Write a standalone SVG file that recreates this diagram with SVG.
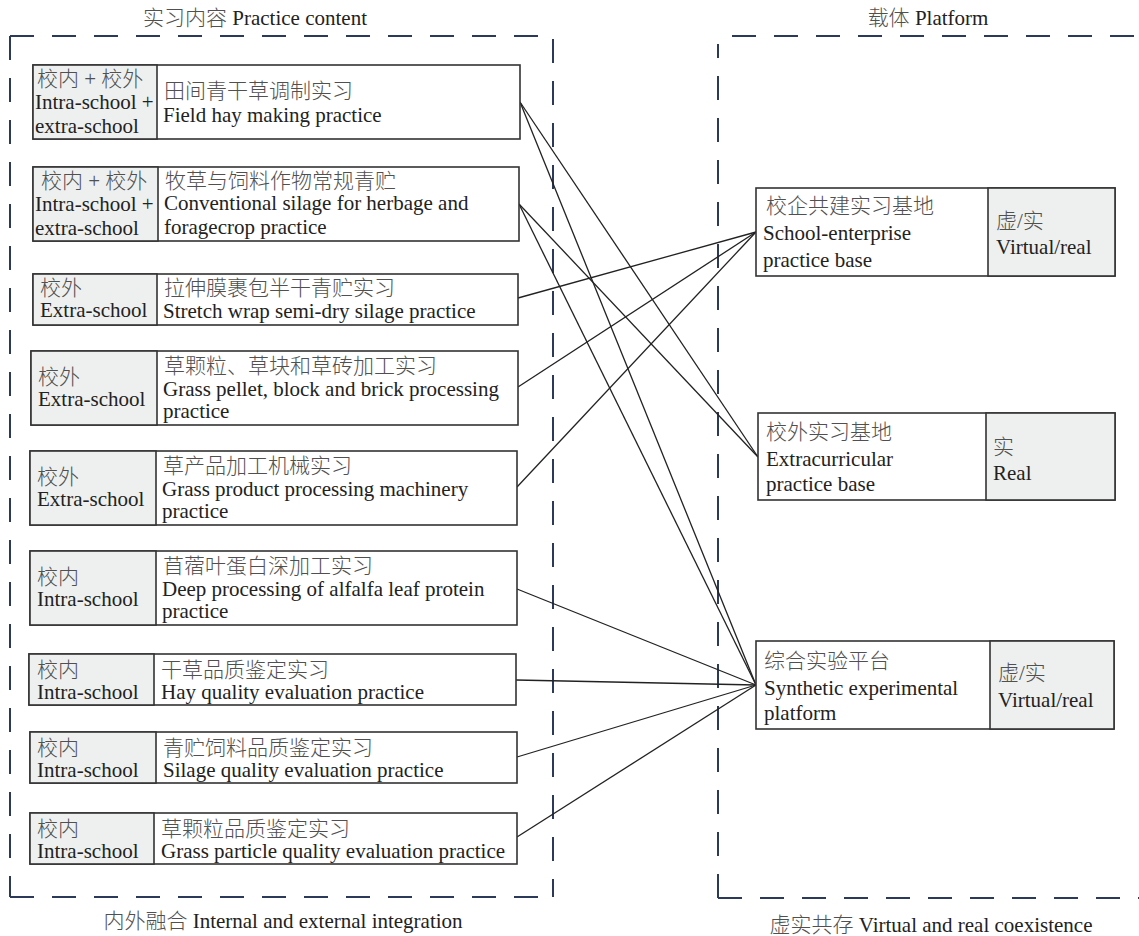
<svg xmlns="http://www.w3.org/2000/svg" width="1139" height="936" viewBox="0 0 1139 936">
<style>
  text { font-family: "Liberation Serif", "Noto Sans CJK SC", serif; font-size: 21px; fill: #222; }
  .cj { fill: #505050; font-weight: 300; }
  .frame { fill: none; stroke: #2c3a5a; stroke-width: 2; stroke-dasharray: 24 18; }
  .box { fill: #fff; stroke: #333; stroke-width: 1.6; }
  .cell { fill: #eef0ef; stroke: #333; stroke-width: 1.6; }
  .conn line { stroke: #222; stroke-width: 1.3; }
</style>
<rect width="1139" height="936" fill="#fff"/>

<g id="frames">
  <path class="frame" d="M10,36 H553 V897"/>
  <path class="frame" d="M10,36 V897"/>
  <path class="frame" d="M10,897 H545"/>
  <path class="frame" d="M732,36 H1139"/>
  <path class="frame" d="M718,898 V44"/>
  <path class="frame" d="M718,898 H1139"/>
</g>

<g id="titles">
  <text x="255" y="25" text-anchor="middle"><tspan class="cj">实习内容</tspan> Practice content</text>
  <text x="928" y="25" text-anchor="middle"><tspan class="cj">载体</tspan> Platform</text>
  <text x="283" y="928" text-anchor="middle"><tspan class="cj">内外融合</tspan> Internal and external integration</text>
  <text x="931" y="932" text-anchor="middle"><tspan class="cj">虚实共存</tspan> Virtual and real coexistence</text>
</g>

<g id="connectors" class="conn">
  <line x1="520" y1="102" x2="758" y2="457"/>
  <line x1="520" y1="102" x2="756" y2="685"/>
  <line x1="519" y1="204" x2="758" y2="457"/>
  <line x1="519" y1="204" x2="756" y2="685"/>
  <line x1="518" y1="298" x2="756" y2="232"/>
  <line x1="518" y1="387" x2="756" y2="232"/>
  <line x1="517" y1="487" x2="756" y2="232"/>
  <line x1="517" y1="589" x2="756" y2="685"/>
  <line x1="516" y1="680" x2="756" y2="685"/>
  <line x1="517" y1="757" x2="756" y2="685"/>
  <line x1="517" y1="837" x2="756" y2="685"/>
</g>

<g id="p1">
  <rect class="box" x="33" y="65" width="487" height="74"/>
  <rect class="cell" x="33" y="65" width="124" height="74"/>
  <text x="37" y="86" class="cj">校内 + 校外</text>
  <text x="35" y="109">Intra-school +</text>
  <text x="35" y="133">extra-school</text>
  <text x="164" y="98" class="cj">田间青干草调制实习</text>
  <text x="163" y="122">Field hay making practice</text>
</g>

<g id="p2">
  <rect class="box" x="33" y="167" width="486" height="74"/>
  <rect class="cell" x="33" y="167" width="125" height="74"/>
  <text x="41" y="188" class="cj">校内 + 校外</text>
  <text x="35" y="211">Intra-school +</text>
  <text x="35" y="235">extra-school</text>
  <text x="165" y="188" class="cj">牧草与饲料作物常规青贮</text>
  <text x="164" y="210">Conventional silage for herbage and</text>
  <text x="164" y="234">foragecrop practice</text>
</g>

<g id="p3">
  <rect class="box" x="33" y="274" width="485" height="51"/>
  <rect class="cell" x="33" y="274" width="124" height="51"/>
  <text x="40" y="295" class="cj">校外</text>
  <text x="40" y="317">Extra-school</text>
  <text x="164" y="295" class="cj">拉伸膜裹包半干青贮实习</text>
  <text x="163" y="318">Stretch wrap semi-dry silage practice</text>
</g>

<g id="p4">
  <rect class="box" x="31" y="351" width="487" height="74"/>
  <rect class="cell" x="31" y="351" width="126" height="74"/>
  <text x="38" y="384" class="cj">校外</text>
  <text x="38" y="406">Extra-school</text>
  <text x="164" y="373" class="cj">草颗粒、草块和草砖加工实习</text>
  <text x="163" y="396">Grass pellet, block and brick processing</text>
  <text x="163" y="418">practice</text>
</g>

<g id="p5">
  <rect class="box" x="30" y="451" width="487" height="74"/>
  <rect class="cell" x="30" y="451" width="126" height="74"/>
  <text x="37" y="484" class="cj">校外</text>
  <text x="37" y="506">Extra-school</text>
  <text x="163" y="473" class="cj">草产品加工机械实习</text>
  <text x="162" y="496">Grass product processing machinery</text>
  <text x="162" y="518">practice</text>
</g>

<g id="p6">
  <rect class="box" x="30" y="551" width="487" height="74"/>
  <rect class="cell" x="30" y="551" width="126" height="74"/>
  <text x="37" y="584" class="cj">校内</text>
  <text x="37" y="606">Intra-school</text>
  <text x="163" y="573" class="cj">苜蓿叶蛋白深加工实习</text>
  <text x="162" y="596">Deep processing of alfalfa leaf protein</text>
  <text x="162" y="618">practice</text>
</g>

<g id="p7">
  <rect class="box" x="29" y="654" width="487" height="51"/>
  <rect class="cell" x="29" y="654" width="125" height="51"/>
  <text x="37" y="677" class="cj">校内</text>
  <text x="37" y="699">Intra-school</text>
  <text x="161" y="677" class="cj">干草品质鉴定实习</text>
  <text x="161" y="699">Hay quality evaluation practice</text>
</g>

<g id="p8">
  <rect class="box" x="30" y="732" width="487" height="51"/>
  <rect class="cell" x="30" y="732" width="126" height="51"/>
  <text x="37" y="755" class="cj">校内</text>
  <text x="37" y="777">Intra-school</text>
  <text x="163" y="755" class="cj">青贮饲料品质鉴定实习</text>
  <text x="163" y="777">Silage quality evaluation practice</text>
</g>

<g id="p9">
  <rect class="box" x="30" y="813" width="487" height="51"/>
  <rect class="cell" x="30" y="813" width="124" height="51"/>
  <text x="37" y="836" class="cj">校内</text>
  <text x="37" y="858">Intra-school</text>
  <text x="161" y="836" class="cj">草颗粒品质鉴定实习</text>
  <text x="161" y="858">Grass particle quality evaluation practice</text>
</g>

<g id="r1">
  <rect class="box" x="756" y="188" width="359" height="88"/>
  <rect class="cell" x="988" y="188" width="127" height="88"/>
  <text x="766" y="213" class="cj">校企共建实习基地</text>
  <text x="763" y="240">School-enterprise</text>
  <text x="763" y="267">practice base</text>
  <text x="996" y="228" class="cj">虚/实</text>
  <text x="996" y="254">Virtual/real</text>
</g>

<g id="r2">
  <rect class="box" x="758" y="413" width="357" height="87"/>
  <rect class="cell" x="986" y="413" width="129" height="87"/>
  <text x="766" y="439" class="cj">校外实习基地</text>
  <text x="766" y="466">Extracurricular</text>
  <text x="766" y="491">practice base</text>
  <text x="993" y="454" class="cj">实</text>
  <text x="993" y="480">Real</text>
</g>

<g id="r3">
  <rect class="box" x="756" y="641" width="358" height="88"/>
  <rect class="cell" x="990" y="641" width="124" height="88"/>
  <text x="764" y="668" class="cj">综合实验平台</text>
  <text x="764" y="695">Synthetic experimental</text>
  <text x="764" y="720">platform</text>
  <text x="998" y="680" class="cj">虚/实</text>
  <text x="998" y="707">Virtual/real</text>
</g>
</svg>
